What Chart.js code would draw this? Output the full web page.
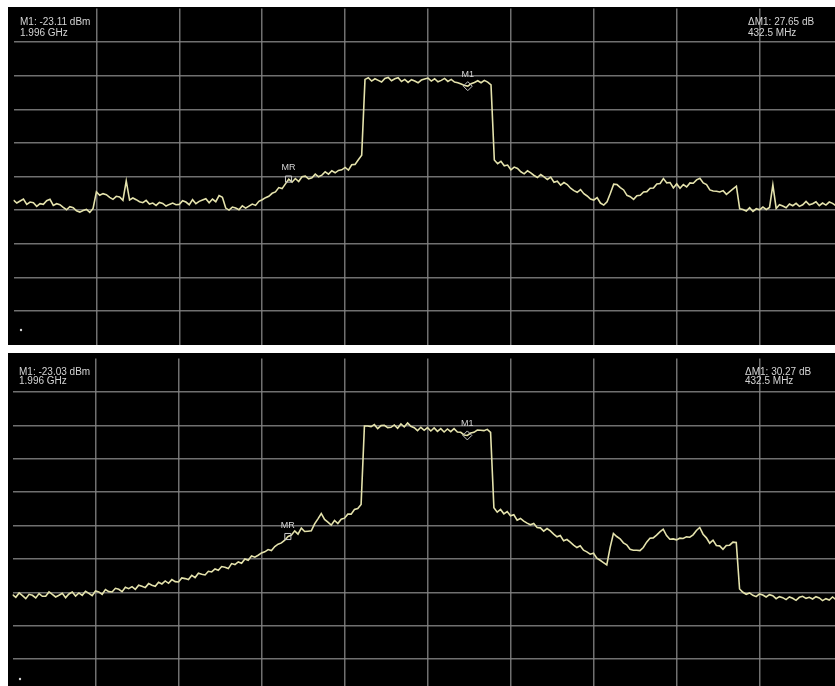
<!DOCTYPE html>
<html>
<head>
<meta charset="utf-8">
<script src="https://cdn.jsdelivr.net/npm/chart.js@4.4.1/dist/chart.umd.min.js"></script>
<style>
  html, body { margin: 0; padding: 0; background: #fff; width: 835px; height: 686px; overflow: hidden; }
  .panel { position: absolute; background: #000; overflow: hidden; }
  #upper { left: 8px; top: 7px; width: 827px; height: 338px; }
  #lower { left: 8px; top: 353px; width: 827px; height: 333px; }
  canvas { position: absolute; }
  #upperCanvas { left: 0; top: -4px; }
  #lowerCanvas { left: -1px; top: 0; }
</style>
</head>
<body>
<div class="panel" id="upper"><canvas id="upperCanvas" width="840" height="347"></canvas></div>
<div class="panel" id="lower"><canvas id="lowerCanvas" width="841" height="345"></canvas></div>
<script>
// Sweep: 900 MHz to 2900 MHz, 251 points (8 MHz apart), 200 MHz/div, 10 dB/div from 0 dBm.
const SWEEP_START_MHZ = 900;
const SWEEP_STEP_MHZ = 8;
const SWEEP_POINTS = 251;
const sweepMHz = Array.from({ length: SWEEP_POINTS }, (_, i) => SWEEP_START_MHZ + i * SWEEP_STEP_MHZ);

// Upper trace, dBm
const upperTraceDbm = [
  -57.0, -57.9, -57.3, -56.7, -58.3, -57.6, -57.8, -58.9, -58.1, -58.3,
  -57.2, -56.8, -58.6, -58.1, -58.4, -59.2, -59.9, -59.0, -59.3, -60.2,
  -60.6, -60.1, -59.8, -60.7, -59.5, -54.6, -55.6, -55.1, -55.4, -56.2,
  -56.8, -55.9, -56.1, -57.1, -51.3, -57.0, -56.4, -56.9, -57.5, -57.8,
  -57.1, -58.2, -57.9, -58.6, -57.7, -58.0, -58.8, -58.3, -57.9, -58.4,
  -58.3, -57.2, -57.6, -58.4, -56.9, -58.1, -57.4, -57.0, -56.6, -57.8,
  -56.7, -57.5, -55.7, -56.2, -59.4, -60.0, -59.1, -59.4, -59.9, -58.7,
  -59.4, -58.8, -58.2, -58.6, -57.4, -56.9, -56.3, -55.9, -55.0, -54.6,
  -53.3, -53.6, -52.2, -50.8, -51.7, -50.6, -51.5, -50.1, -49.9, -50.7,
  -50.4, -49.3, -50.1, -49.6, -48.6, -49.3, -48.3, -48.9, -48.2, -48.0,
  -47.3, -48.1, -46.5, -46.4, -45.0, -43.7, -21.1, -20.6, -21.6, -20.9,
  -21.4, -21.9, -20.8, -20.5, -21.5, -20.9, -20.6, -21.7, -21.1, -22.0,
  -21.2, -21.6, -22.1, -21.3, -21.0, -20.7, -21.6, -20.9, -21.8, -21.4,
  -20.8, -21.7, -21.1, -21.9, -22.1, -22.5, -22.9, -23.11, -22.4, -22.0,
  -21.5, -22.1, -21.4, -21.9, -22.7, -45.1, -46.2, -45.5, -46.8, -46.6,
  -48.0, -47.2, -47.6, -48.6, -49.2, -48.3, -48.9, -49.7, -50.3, -49.4,
  -50.1, -50.9, -50.2, -51.7, -51.4, -52.6, -51.8, -52.4, -53.5, -54.2,
  -54.7, -53.9, -55.1, -55.8, -56.7, -57.0, -56.3, -57.9, -58.5, -57.5,
  -55.0, -52.3, -52.4, -53.3, -54.0, -55.6, -56.0, -56.8, -55.7, -55.6,
  -54.6, -54.5, -53.5, -53.4, -52.2, -52.1, -50.6, -51.9, -51.8, -53.4,
  -52.2, -53.5, -52.4, -53.1, -51.9, -52.0, -51.0, -50.5, -51.9, -52.4,
  -54.0, -54.3, -54.4, -54.6, -54.2, -55.3, -54.5, -53.7, -52.9, -59.6,
  -59.8, -60.3, -59.3, -60.4, -59.6, -59.9, -59.1, -59.8, -59.2, -52.5,
  -59.5, -58.4, -58.8, -59.3, -58.2, -58.7, -58.0, -58.9, -58.4, -57.4,
  -58.4, -58.1, -57.5, -58.7, -57.9, -58.5, -57.6, -58.0, -58.7, -57.8,
  -58.2
];

// Lower trace, dBm
const lowerTraceDbm = [
  -70.7, -71.5, -70.2, -71.0, -71.9, -70.6, -70.9, -71.7, -70.4, -71.2,
  -71.2, -69.9, -70.6, -71.4, -70.9, -70.3, -71.6, -70.5, -69.9, -71.1,
  -70.2, -70.9, -69.7, -70.3, -71.0, -69.6, -69.9, -70.6, -69.2, -69.8,
  -69.9, -68.8, -69.1, -69.8, -68.5, -68.9, -68.3, -69.1, -67.9, -68.2,
  -68.6, -67.4, -67.9, -68.2, -67.0, -67.5, -66.6, -67.3, -66.2, -66.8,
  -66.9, -65.7, -65.9, -66.2, -64.9, -65.6, -64.3, -64.6, -64.8, -63.7,
  -63.9, -63.0, -63.4, -62.3, -62.5, -62.9, -61.4, -61.7, -60.9, -61.3,
  -60.0, -60.4, -59.1, -59.5, -58.9, -58.2, -57.9, -57.2, -57.5, -56.3,
  -55.6, -55.2, -54.4, -53.3, -52.9, -51.6, -52.6, -50.8, -51.8, -51.7,
  -51.6, -49.5, -48.0, -46.4, -48.2, -49.0, -49.9, -48.5, -49.4, -48.1,
  -47.8, -46.6, -46.6, -45.2, -44.9, -43.7, -20.2, -20.2, -20.4, -19.8,
  -21.0, -20.1, -20.0, -20.7, -20.6, -19.9, -20.9, -19.6, -20.5, -19.3,
  -20.3, -20.7, -21.6, -20.6, -21.5, -20.7, -21.7, -20.8, -21.8, -21.0,
  -22.0, -21.1, -21.9, -21.0, -22.0, -22.1, -22.9, -23.03, -22.3, -22.1,
  -21.4, -21.5, -21.6, -21.2, -22.1, -44.7, -46.0, -45.2, -46.5, -45.8,
  -47.1, -46.8, -48.4, -47.9, -48.7, -49.3, -49.8, -49.4, -50.6, -50.7,
  -51.7, -50.9, -51.6, -52.6, -53.4, -53.0, -54.6, -54.2, -55.0, -55.9,
  -56.6, -56.1, -57.4, -57.9, -58.6, -58.3, -59.8, -60.4, -61.1, -61.8,
  -56.6, -52.4, -53.3, -54.0, -55.2, -55.8, -57.1, -57.4, -57.4, -57.5,
  -56.6, -55.0, -53.8, -53.7, -52.9, -51.9, -51.1, -53.0, -54.1, -54.0,
  -54.3, -53.8, -53.9, -53.4, -53.5, -52.8, -51.5, -50.6, -52.6, -53.7,
  -55.3, -54.4, -56.0, -56.1, -57.1, -56.0, -55.9, -55.0, -55.1, -69.0,
  -70.0, -70.6, -70.2, -70.9, -71.3, -70.5, -70.8, -71.4, -70.7, -71.0,
  -71.9, -71.3, -71.6, -72.2, -71.4, -71.8, -72.4, -71.5, -71.2, -71.8,
  -71.5, -72.0, -71.3, -71.7, -72.5, -71.9, -72.3, -71.4, -72.2, -71.7,
  -71.9
];

// Markers: M1 (normal) and MR (delta reference)
const markerNames = ['M1', 'MR'];
const markerFreqMHz = [1996, 1563.5];
const upperMarkerDbm = [-23.11, -50.76];
const lowerMarkerDbm = [-23.03, -53.30];

const TRACE_COLOR = '#e4e2ac';
const GRID_COLOR = 'rgba(132,132,132,0.85)';
const TEXT_COLOR = '#d4d4d4';
const FONT_FAMILY = '"Liberation Sans", Arial, sans-serif';

function readoutLines(levels) {
  const m1 = levels[0], mr = levels[1];
  return {
    left: ['M1: ' + m1.toFixed(2) + ' dBm', (markerFreqMHz[0] / 1000).toFixed(3) + ' GHz'],
    right: ['\u0394M1: ' + (m1 - mr).toFixed(2) + ' dB', (markerFreqMHz[0] - markerFreqMHz[1]).toFixed(1) + ' MHz']
  };
}

// Marker labels, readouts and the small status dot
const overlayPlugin = {
  id: 'overlay',
  afterDatasetsDraw(chart, args, opts) {
    const { ctx } = chart;
    const xs = chart.scales.x, ys = chart.scales.y;
    ctx.save();
    ctx.fillStyle = TEXT_COLOR;
    ctx.textBaseline = 'alphabetic';

    ctx.font = '10px ' + FONT_FAMILY;
    ctx.textAlign = 'left';
    const r = readoutLines(opts.levels);
    r.left.forEach((t, k) => ctx.fillText(t, opts.leftX, opts.baselines[k]));
    r.right.forEach((t, k) => ctx.fillText(t, opts.rightX, opts.baselines[k]));

    ctx.font = '9px ' + FONT_FAMILY;
    ctx.textAlign = 'center';
    markerNames.forEach((name, k) => {
      const px = xs.getPixelForValue(markerFreqMHz[k]);
      const py = ys.getPixelForValue(opts.levels[k]);
      ctx.fillText(name, px, py - 9);
    });

    ctx.beginPath();
    ctx.arc(opts.dot[0], opts.dot[1], 1.2, 0, Math.PI * 2);
    ctx.fill();
    ctx.restore();
  }
};

function edgeHidden(c) {
  const n = c.scale.ticks.length;
  return (c.index === 0 || c.index === n - 1) ? 'rgba(0,0,0,0)' : GRID_COLOR;
}

function makeAnalyzer(canvasId, trace, markers, padding, overlay) {
  const points = sweepMHz.map((f, i) => ({ x: f, y: trace[i] }));
  const markerStyle = (k, style, radius) => ({
    data: [{ x: markerFreqMHz[k], y: markers[k] }],
    showLine: false,
    pointStyle: style,
    pointRadius: radius,
    pointBorderColor: '#c9c9c9',
    pointBorderWidth: 1,
    pointBackgroundColor: 'rgba(0,0,0,0)',
    order: 0
  });
  return new Chart(document.getElementById(canvasId), {
    type: 'line',
    data: {
      datasets: [
        markerStyle(0, 'rectRot', 4.5),
        markerStyle(1, 'rect', 4.3),
        {
          data: points,
          borderColor: TRACE_COLOR,
          borderWidth: 1.6,
          pointRadius: 0,
          tension: 0,
          fill: false,
          order: 1
        }
      ]
    },
    options: {
      responsive: false,
      animation: false,
      events: [],
      layout: { padding },
      plugins: {
        legend: { display: false },
        tooltip: { enabled: false },
        overlay
      },
      scales: {
        x: {
          type: 'linear',
          min: 900, max: 2900,
          ticks: { display: false, stepSize: 200 },
          grid: { color: edgeHidden, lineWidth: 1.5, drawTicks: false },
          border: { display: false }
        },
        y: {
          type: 'linear',
          min: -100, max: 0,
          ticks: { display: false, stepSize: 10 },
          grid: { color: edgeHidden, lineWidth: 1.5, drawTicks: false },
          border: { display: false }
        }
      }
    },
    plugins: [overlayPlugin]
  });
}

makeAnalyzer('upperCanvas', upperTraceDbm, upperMarkerDbm,
  { left: 1.25, right: 1.25, top: 0.8, bottom: 1.2 },
  { levels: upperMarkerDbm, leftX: 12, rightX: 740, baselines: [22, 33], dot: [13, 327] });

makeAnalyzer('lowerCanvas', lowerTraceDbm, lowerMarkerDbm,
  { left: 0.5, right: 2, top: 1.1, bottom: 1.9 },
  { levels: lowerMarkerDbm, leftX: 12, rightX: 738, baselines: [21.5, 31], dot: [13, 326] });
</script>
</body>
</html>
